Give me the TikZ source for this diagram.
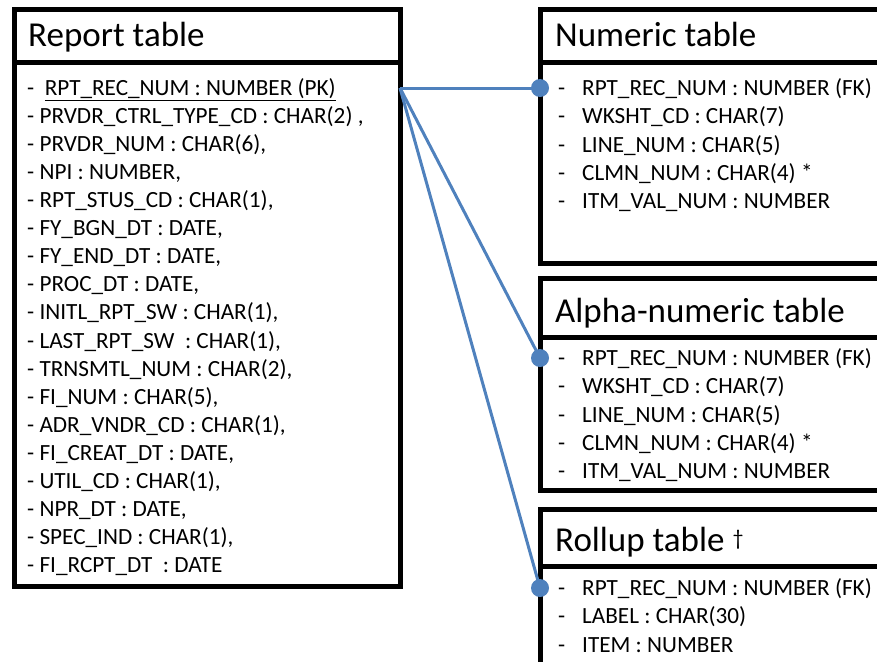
\documentclass[tikz,border=0pt]{standalone}
\usepackage{fontspec}
\setmainfont{Carlito}
\definecolor{linkblue}{RGB}{79,129,189}
\begin{document}
\begin{tikzpicture}[x=1pt,y=-1pt]
    \tikzstyle{every node}+=[inner sep=0pt]
    \tikzstyle{box}=[black, line width=5pt]
    \tikzstyle{title}=[anchor=base west, font=\fontsize{35}{40}\selectfont]
    \tikzstyle{field}=[anchor=base west, font=\fontsize{23.2}{28}\selectfont]
    \tikzstyle{link}=[linkblue, line width=3pt]
    \tikzstyle{dot}=[circle, fill=linkblue, minimum size=18pt]
    \useasboundingbox (0,0) rectangle (877,661);
    \clip (0,0) rectangle (877,661);
    % report table
    \draw [box] (14,10) rectangle (400,586);
    \draw [box] (14,62) -- (400,62);
    \node [title] (rpt) at (28,47) {Report table};
    \foreach \txt [count=\i] in {
        {-~~\underline{RPT\_REC\_NUM : NUMBER (PK)}},
        {- PRVDR\_CTRL\_TYPE\_CD : CHAR(2) ,},
        {- PRVDR\_NUM : CHAR(6),},
        {- NPI : NUMBER,},
        {- RPT\_STUS\_CD : CHAR(1),},
        {- FY\_BGN\_DT : DATE,},
        {- FY\_END\_DT : DATE,},
        {- PROC\_DT : DATE,},
        {- INITL\_RPT\_SW : CHAR(1),},
        {- LAST\_RPT\_SW~~: CHAR(1),},
        {- TRNSMTL\_NUM : CHAR(2),},
        {- FI\_NUM : CHAR(5),},
        {- ADR\_VNDR\_CD : CHAR(1),},
        {- FI\_CREAT\_DT : DATE,},
        {- UTIL\_CD : CHAR(1),},
        {- NPR\_DT : DATE,},
        {- SPEC\_IND : CHAR(1),},
        {- FI\_RCPT\_DT~~: DATE}}
        \node [field] (rpt-\i) at (27,95.5+28.06*\i-28.06) {\txt};
    \coordinate (rpt-pk) at (400,88);
    % numeric table
    \draw [box] (540,10) rectangle (900,263);
    \draw [box] (540,62) -- (900,62);
    \node [title] (num) at (555,47) {Numeric table};
    \foreach \txt [count=\i] in {
        {RPT\_REC\_NUM : NUMBER (FK)},
        {WKSHT\_CD : CHAR(7)},
        {LINE\_NUM : CHAR(5)},
        {CLMN\_NUM : CHAR(4) *},
        {ITM\_VAL\_NUM : NUMBER}}
        \node [field] (num-\i) at (558,95.5+28.3*\i-28.3) {\makebox[24pt][l]{-}\txt};
    % alpha-numeric table
    \draw [box] (540,278) rectangle (900,490);
    \draw [box] (540,337) -- (900,337);
    \node [title] (alp) at (555,322) {Alpha-numeric table};
    \foreach \txt [count=\i] in {
        {RPT\_REC\_NUM : NUMBER (FK)},
        {WKSHT\_CD : CHAR(7)},
        {LINE\_NUM : CHAR(5)},
        {CLMN\_NUM : CHAR(4) *},
        {ITM\_VAL\_NUM : NUMBER}}
        \node [field] (alp-\i) at (558,365.5+28.3*\i-28.3) {\makebox[24pt][l]{-}\txt};
    % rollup table
    \draw [box] (540,509) rectangle (900,690);
    \draw [box] (540,566) -- (900,566);
    \node [title] (rol) at (555,551) {Rollup table \raisebox{6pt}{\fontsize{22}{22}\selectfont\textdagger}};
    \foreach \txt [count=\i] in {
        {RPT\_REC\_NUM : NUMBER (FK)},
        {LABEL : CHAR(30)},
        {ITEM : NUMBER}}
        \node [field] (rol-\i) at (558,595.5+28.3*\i-28.3) {\makebox[24pt][l]{-}\txt};
    % links
    \node [dot] (num-fk) at (540,88) {};
    \node [dot] (alp-fk) at (540,358) {};
    \node [dot] (rol-fk) at (540,588) {};
    \draw [link] (rpt-pk) -- (num-fk.center);
    \draw [link] (rpt-pk) -- (alp-fk.center);
    \draw [link] (rpt-pk) -- (rol-fk.center);
\end{tikzpicture}
\end{document}
